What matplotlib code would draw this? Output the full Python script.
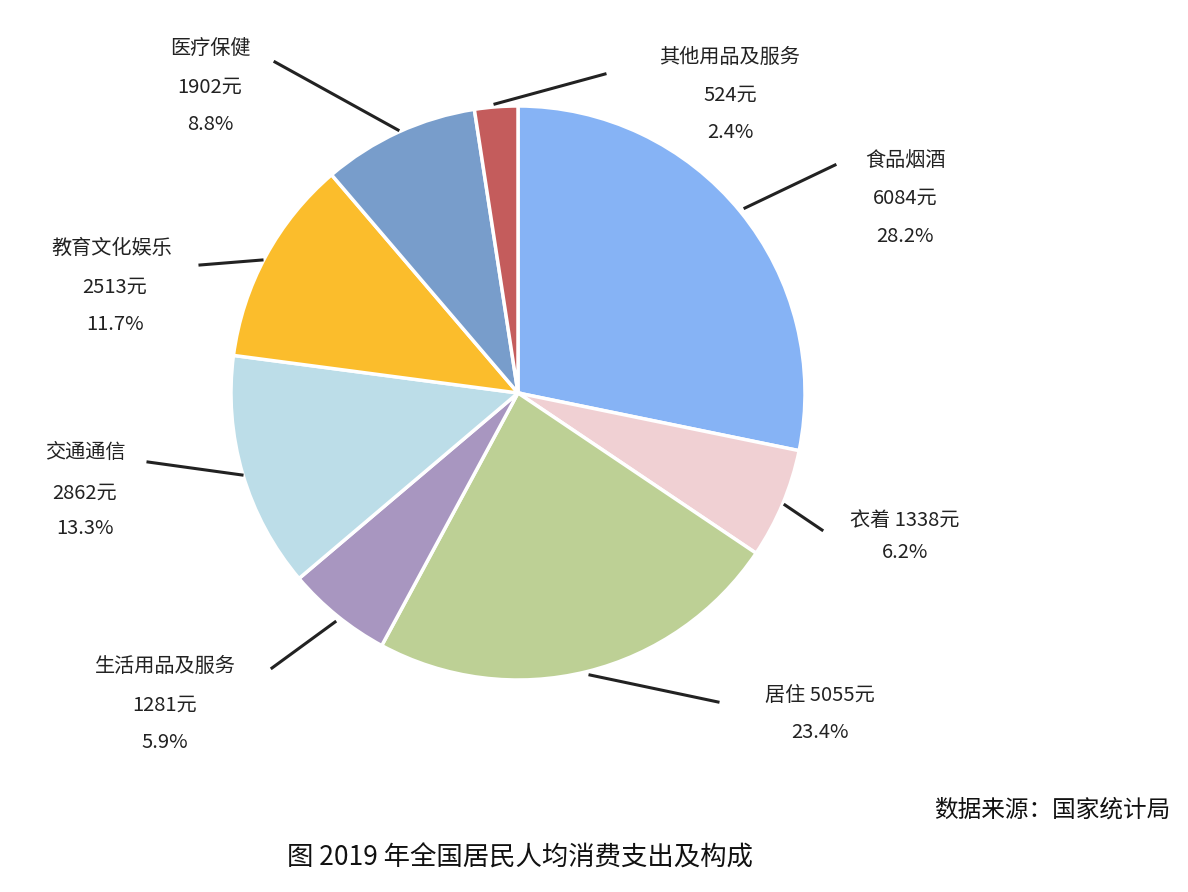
import matplotlib
matplotlib.use("Agg")
import matplotlib.pyplot as plt

plt.rcParams['font.family'] = ['Noto Sans CJK SC', 'DejaVu Sans']

categories = ["食品烟酒", "衣着", "居住", "生活用品及服务", "交通通信", "教育文化娱乐", "医疗保健", "其他用品及服务"]
values = [6084, 1338, 5055, 1281, 2862, 2513, 1902, 524]
percents = ["28.2%", "6.2%", "23.4%", "5.9%", "13.3%", "11.7%", "8.8%", "2.4%"]
colors = ["#86b3f5", "#f0d0d3", "#bdd095", "#a896c0", "#bcdde8", "#fbbd2c", "#789dcb", "#c45c5c"]

W, H = 1188, 892
fig = plt.figure(figsize=(W/100, H/100), dpi=100)
ax = fig.add_axes([0, 0, 1, 1])
ax.set_xlim(0, W); ax.set_ylim(0, H); ax.axis('off')

def P(x, y):
    return (x, H - y)

ax.pie(values, colors=colors, startangle=90, counterclock=False,
       center=P(518, 393), radius=287, frame=True,
       wedgeprops=dict(edgecolor='white', linewidth=2.5))
ax.set_xlim(0, W); ax.set_ylim(0, H); ax.axis('off')

# label layout: (line start, line end, list of (x, y, text))
layout = [
    ((745, 208), (835, 165), [(905, 160, "{c}"), (905, 198, "{v}元"), (905, 236, "{p}")]),
    ((785, 505), (822, 530), [(905, 520, "{c} {v}元"), (905, 553, "{p}")]),
    ((590, 675), (718, 702), [(820, 695, "{c} {v}元"), (820, 733, "{p}")]),
    ((335, 622), (272, 668), [(165, 666, "{c}"), (165, 705, "{v}元"), (165, 743, "{p}")]),
    ((242, 475), (148, 462), [(85, 452, "{c}"), (85, 493, "{v}元"), (85, 528, "{p}")]),
    ((262, 260), (200, 265), [(112, 248, "{c}"), (115, 287, "{v}元"), (115, 325, "{p}")]),
    ((398, 130), (275, 62), [(210, 48, "{c}"), (210, 87, "{v}元"), (210, 125, "{p}")]),
    ((495, 104), (605, 74), [(730, 57, "{c}"), (730, 95, "{v}元"), (730, 132, "{p}")]),
]
for i, (s, e, texts) in enumerate(layout):
    ax.plot([P(*s)[0], P(*e)[0]], [P(*s)[1], P(*e)[1]], color='#222222', lw=2.2)
    for x, y, t in texts:
        ax.text(*P(x, y), t.format(c=categories[i], v=values[i], p=percents[i]),
                ha='center', va='center', fontsize=14.5, color='#222222')

ax.text(*P(1170, 810), "数据来源：国家统计局", ha='right', va='center', fontsize=17, color='#111111')
ax.text(*P(520, 858), "图 2019 年全国居民人均消费支出及构成", ha='center', va='center', fontsize=19, color='#111111')

fig.savefig("out.png", dpi=100)
